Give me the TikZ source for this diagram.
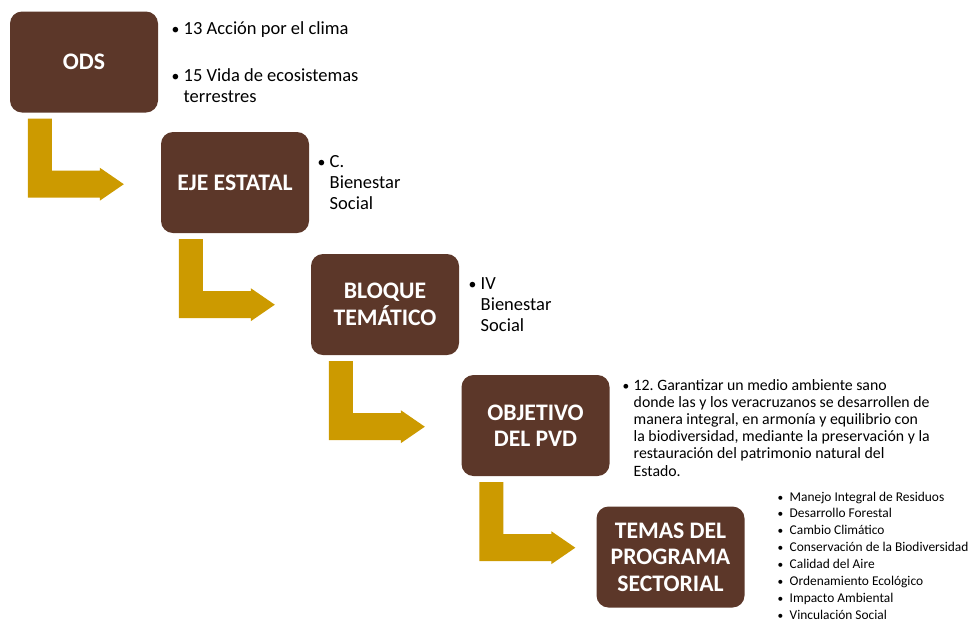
\documentclass[tikz,border=0pt]{standalone}
\usepackage{fontspec}
\usepackage{graphicx}
\setmainfont{Carlito}
\usetikzlibrary{calc}

\definecolor{cafe}{RGB}{92,55,41}
\definecolor{ocre}{RGB}{204,154,0}

\newcommand{\vin}[1][12pt]{\makebox[#1][l]{\scalebox{0.85}{\textbullet}}}
\newcommand{\flecha}[1]{%
  \fill[ocre] ($(#1.south west)+(18,6)$) coordinate (p) -- ++(24,0) -- ++(0,52) -- ++(48,0) -- ++(0,-3)
    -- ++(24,16.5) -- ++(-24,16.5) -- ++(0,-3) -| (p) -- cycle;}

\tikzset{
  caja/.style={fill=cafe, rounded corners=12pt, minimum width=148pt, minimum height=101pt,
    text=white, align=center, inner sep=2pt, font=\fontsize{23.7}{26.5}\selectfont\bfseries},
  lista/.style={anchor=base west, inner sep=0pt, font=\fontsize{18.5}{21}\selectfont},
  listamed/.style={lista, font=\fontsize{15.8}{17.2}\selectfont},
  listachica/.style={lista, font=\fontsize{13.4}{16.9}\selectfont}
}

\begin{document}
\begin{tikzpicture}[x=1pt,y=-1pt]
	\useasboundingbox (0,0) rectangle (971,622);
	
	%cajas
	\node[caja] (ods)      at (84,62)    {ODS};
	\node[caja] (eje)      at (235,182.5) {EJE ESTATAL};
	\node[caja] (bloque)   at (385,304.5) {BLOQUE\\TEMÁTICO};
	\node[caja] (objetivo) at (535.5,425.5) {OBJETIVO\\DEL PVD};
	\node[caja] (temas)    at (670.5,557) {TEMAS DEL\\PROGRAMA\\SECTORIAL};
	
	%flechas
	\flecha{ods}
	\flecha{eje}
	\flecha{bloque}
	\flecha{objetivo}
	
	%textos
	\node[lista] (odsA) at (171.5,34.3) {\begin{tabular}[t]{@{}l@{}l@{}}\vin & 13 Acción por el clima\end{tabular}};
	\node[lista] (odsB) at (171.5,81.7) {\begin{tabular}[t]{@{}l@{}l@{}}\vin & 15 Vida de ecosistemas\\ & terrestres\end{tabular}};
	\node[lista] (ejeTxt) at (317.5,167.7) {\begin{tabular}[t]{@{}l@{}l@{}}\vin & C.\\ & Bienestar\\ & Social\end{tabular}};
	\node[lista] (bloqueTxt) at (468.5,289) {\begin{tabular}[t]{@{}l@{}l@{}}\vin & IV\\ & Bienestar\\ & Social\end{tabular}};
	\node[listamed] (objetivoTxt) at (622.5,390) {\begin{tabular}[t]{@{}l@{}l@{}}\vin[11pt] & 12.\ Garantizar un medio ambiente sano\\
		& donde las y los veracruzanos se desarrollen de\\
		& manera integral, en armonía y equilibrio con\\
		& la biodiversidad, mediante la preservación y la\\
		& restauración del patrimonio natural del\\
		& Estado.\end{tabular}};
	\node[listachica] (temasTxt) at (777.5,501) {\begin{tabular}[t]{@{}l@{}l@{}}
		\vin & Manejo Integral de Residuos\\
		\vin & Desarrollo Forestal\\
		\vin & Cambio Climático\\
		\vin & Conservación de la Biodiversidad\\
		\vin & Calidad del Aire\\
		\vin & Ordenamiento Ecológico\\
		\vin & Impacto Ambiental\\
		\vin & Vinculación Social\end{tabular}};
\end{tikzpicture}
\end{document}
